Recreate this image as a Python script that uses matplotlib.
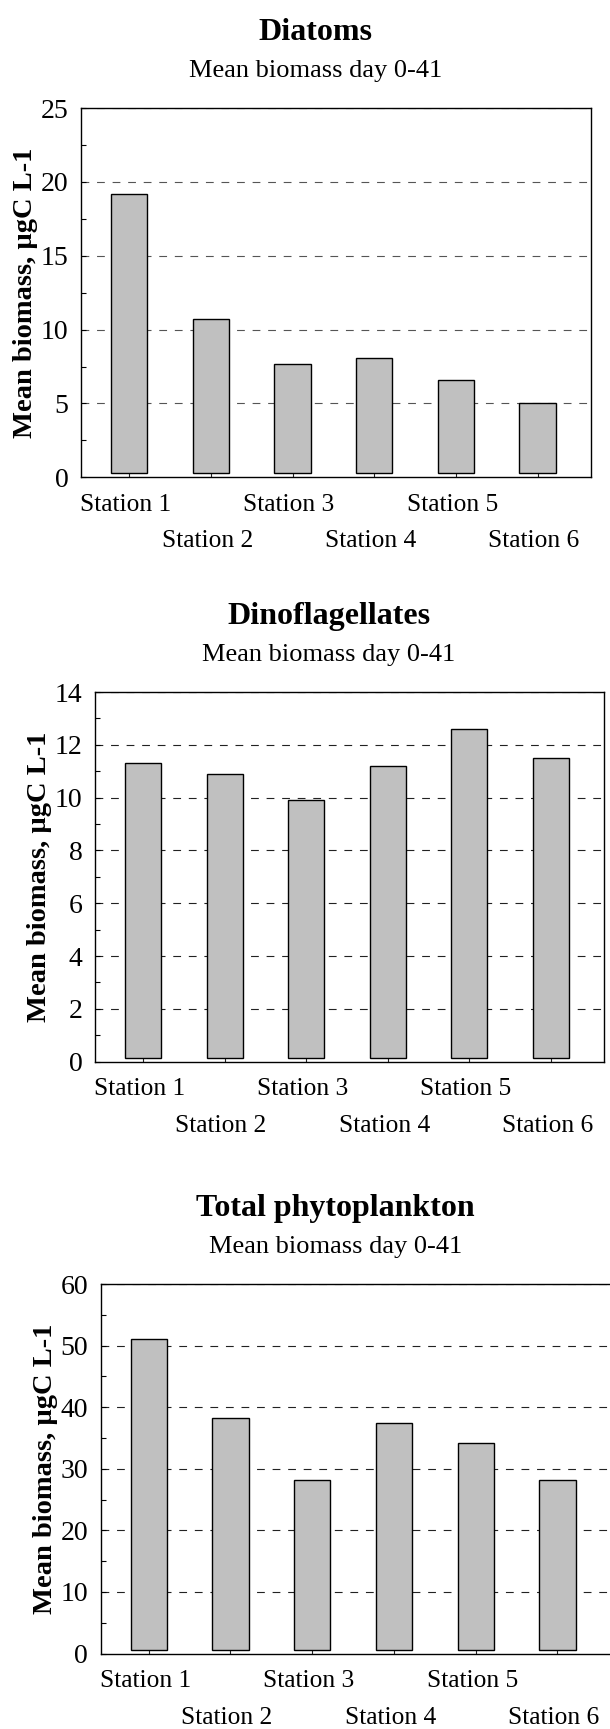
import matplotlib
matplotlib.use('Agg')
import matplotlib.pyplot as plt
import numpy as np
from matplotlib.ticker import MultipleLocator

plt.rcParams['font.family'] = ['Liberation Serif', 'DejaVu Serif']

# ---- data ----
stations = ['Station 1', 'Station 2', 'Station 3', 'Station 4', 'Station 5', 'Station 6']
diatoms = [19.2, 10.7, 7.65, 8.1, 6.6, 5.0]
dinoflagellates = [11.3, 10.9, 9.9, 11.2, 12.6, 11.5]
total_phyto = [51.0, 38.2, 28.1, 37.5, 34.2, 28.2]
titles = ['Diatoms', 'Dinoflagellates', 'Total phytoplankton']
subtitle = 'Mean biomass day 0-41'
ylabel = 'Mean biomass, µgC L-1'
ymaxes = [25, 14, 60]
major_steps = [5, 2, 10]
series = [diatoms, dinoflagellates, total_phyto]
grid_colors = ['#555555', '#222222', '#222222']

# ---- layout (pixels) ----
W, H = 610, 1729
DPI = 100
fig = plt.figure(figsize=(W / DPI, H / DPI), dpi=DPI)
PT = DPI / 72.0

# left, top, right, bottom in pixels
boxes = [(81, 108, 591, 477.3), (95, 692, 604, 1061.7), (100.5, 1284, 611, 1653.5)]

for vals, title, ymax, step, gc, (l, t, r, b) in zip(series, titles, ymaxes, major_steps,
                                                     grid_colors, boxes):
    ax = fig.add_axes([l / W, 1 - b / H, (r - l) / W, (b - t) / H])
    x = np.arange(len(stations))
    ax.set_xlim(-0.59, 5.655)
    ax.set_ylim(0, ymax)
    off = 4.0 / (b - t) * ymax  # bars start slightly above the axis
    v = np.asarray(vals, dtype=float)
    ax.bar(x, v - off, bottom=off, width=0.443, color='#c0c0c0',
           edgecolor='black', linewidth=1.0, zorder=2)
    ax.yaxis.set_major_locator(MultipleLocator(step))
    ax.yaxis.set_minor_locator(MultipleLocator(step / 2))
    for yv in np.arange(step, ymax + 0.001, step):
        ax.axhline(yv, color=gc, linewidth=0.8, linestyle=(0, (7, 7)), zorder=0.5)
    ax.tick_params(axis='y', which='both', direction='in', length=3.4, width=0.8,
                   labelsize=20, pad=9, right=False, left=True)
    ax.set_yticks(np.arange(0, ymax + 0.001, step))
    ax.set_xticks(x)
    ax.set_xticklabels([])
    ax.tick_params(axis='x', which='both', direction='in', length=5.8, width=0.8,
                   top=False, bottom=True, color='#222222')
    for lab in ax.get_yticklabels():
        lab.set_fontsize(20)
    for sp in ax.spines.values():
        sp.set_linewidth(1.0)
    for i, s in enumerate(stations):
        dy = -16.5 / PT if i % 2 == 0 else -53.0 / PT
        ax.annotate(s, xy=(i, 0), xycoords=('data', 'axes fraction'),
                    xytext=(-2.5, dy), textcoords='offset points',
                    ha='center', va='top', fontsize=18.4, annotation_clip=False)
    cx = (l + r) / 2 - 20.5
    fig.text(cx / W, 1 - (t - 68) / H, title, ha='center', va='baseline',
             fontsize=23, fontweight='bold')
    fig.text(cx / W, 1 - (t - 31) / H, subtitle, ha='center', va='baseline', fontsize=19)
    fig.text((l - 67.5) / W, 1 - ((t + b) / 2) / H, ylabel, rotation=90,
             ha='left', va='center', fontsize=20.5, fontweight='bold')

fig.savefig('out.png', dpi=DPI)
